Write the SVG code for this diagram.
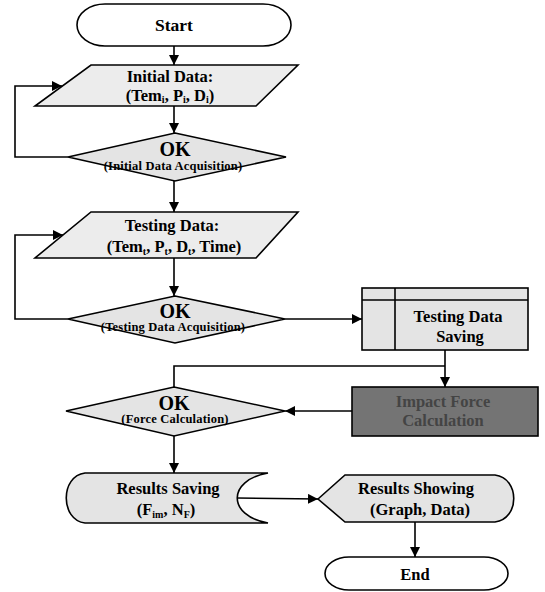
<svg xmlns="http://www.w3.org/2000/svg" width="545" height="592" viewBox="0 0 545 592">
<defs>
<marker id="ah" viewBox="0 0 10 10" refX="10" refY="5" markerWidth="10" markerHeight="10" markerUnits="userSpaceOnUse" orient="auto">
<path d="M0,0 L10,5 L0,10 Z" fill="#000"/>
</marker>
</defs>
<style>
.sh{stroke:#000;stroke-width:1.6;fill:#e4e4e4}
.wh{stroke:#000;stroke-width:1.6;fill:#fff}
.lt{stroke:#000;stroke-width:1.6;fill:#ececec}
.dk{stroke:#000;stroke-width:1.6;fill:#747474}
.c{stroke:#000;stroke-width:1.6;fill:none}
.a{marker-end:url(#ah)}
text{font-family:"Liberation Serif","Times New Roman",serif;font-weight:bold;text-anchor:middle;fill:#000}
.m{font-size:16.5px}
.ok{font-size:20px}
.s{font-size:12.5px;letter-spacing:0.2px}
.sub{font-size:10px}
</style>
<g id="start">
<rect class="wh" x="77" y="4" width="214" height="42" rx="28" ry="21"/>
<text class="m" x="174" y="31" style="font-size:17.5px">Start</text>
</g>
<g id="initial-data">
<polygon class="lt" points="91,65 298,65 256,106 35,106"/>
<text class="m" x="170" y="82">Initial Data:</text>
<text class="m" x="170" y="100.5">(Tem<tspan class="sub" dy="2.5">i</tspan><tspan dy="-2.5">, P</tspan><tspan class="sub" dy="2.5">i</tspan><tspan dy="-2.5">, D</tspan><tspan class="sub" dy="2.5">i</tspan><tspan dy="-2.5">)</tspan></text>
</g>
<g id="ok-initial">
<polygon class="sh" points="175,133 286,157 175,181 68,157"/>
<text class="ok" x="175" y="156">OK</text>
<text class="s" x="173" y="170">(Initial Data Acquisition)</text>
</g>
<g id="testing-data">
<polygon class="lt" points="91,212 298,212 256,258 35,258"/>
<text class="m" x="172" y="231">Testing Data:</text>
<text class="m" x="174" y="252">(Tem<tspan class="sub" dy="2.5">t</tspan><tspan dy="-2.5">, P</tspan><tspan class="sub" dy="2.5">t</tspan><tspan dy="-2.5">, D</tspan><tspan class="sub" dy="2.5">t</tspan><tspan dy="-2.5">, Time)</tspan></text>
</g>
<g id="ok-testing">
<polygon class="sh" points="175,296 285,319 175,343 68,319"/>
<text class="ok" x="175" y="318">OK</text>
<text class="s" x="173" y="331">(Testing Data Acquisition)</text>
</g>
<g id="testing-data-saving">
<rect class="sh" x="362" y="288" width="166" height="62"/>
<line class="c" x1="362" y1="300" x2="528" y2="300"/>
<line class="c" x1="395" y1="288" x2="395" y2="350"/>
<text class="m" x="458" y="322">Testing Data</text>
<text class="m" x="460" y="342">Saving</text>
</g>
<g id="impact-force">
<rect class="dk" x="352" y="387" width="186" height="49"/>
<text class="m" x="443" y="407" style="fill:#444">Impact Force</text>
<text class="m" x="443" y="426" style="fill:#444">Calculation</text>
</g>
<g id="ok-force">
<polygon class="sh" points="174,387 285,411 174,436 66,411"/>
<text class="ok" x="174" y="410">OK</text>
<text class="s" x="175" y="423">(Force Calculation)</text>
</g>
<g id="results-saving">
<path class="sh" d="M85,473 H268 C227,480 227,516 268,523 H85 C60,520 60,476 85,473 Z"/>
<text class="m" x="168" y="494">Results Saving</text>
<text class="m" x="166" y="515">(F<tspan class="sub" dy="3">im</tspan><tspan dy="-3">, N</tspan><tspan class="sub" dy="3">F</tspan><tspan dy="-3">)</tspan></text>
</g>
<g id="results-showing">
<path class="sh" d="M318,499 L345,475 H495 C520,478 520,519 495,522 H345 Z"/>
<text class="m" x="416" y="494">Results Showing</text>
<text class="m" x="420" y="515">(Graph, Data)</text>
</g>
<g id="end">
<rect class="wh" x="325" y="557" width="183" height="33" rx="24" ry="16.5"/>
<text class="m" x="415" y="580">End</text>
</g>
<g id="connectors">
<path class="c a" d="M174,46 V65"/>
<path class="c a" d="M174,106 V133"/>
<path class="c a" d="M68,157 H15 V86 H62"/>
<path class="c a" d="M174,181 V212"/>
<path class="c a" d="M68,319 H15 V235 H63"/>
<path class="c a" d="M174,258 V296"/>
<path class="c a" d="M285,319 H362"/>
<path class="c a" d="M445,350 V387"/>
<path class="c" d="M445,366 H174 V387"/>
<path class="c a" d="M352,411 H285"/>
<path class="c a" d="M174,436 V473"/>
<path class="c a" d="M237,498 L318,499"/>
<path class="c a" d="M415,522 V557"/>
</g>
</svg>
